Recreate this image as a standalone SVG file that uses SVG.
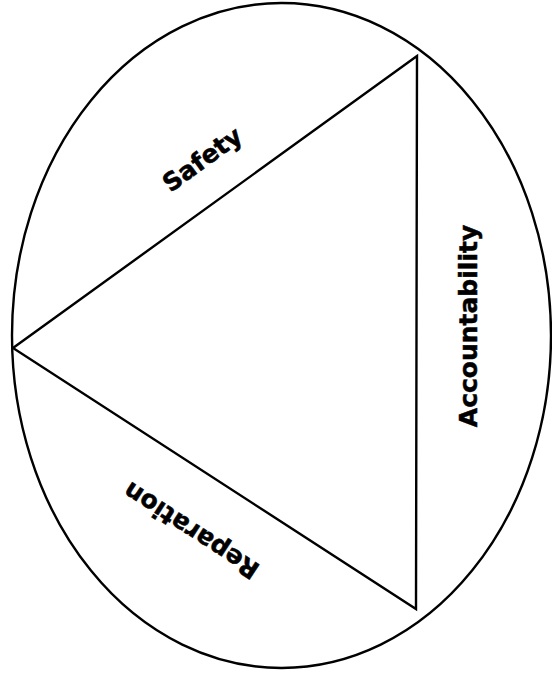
<svg xmlns="http://www.w3.org/2000/svg" width="552" height="674" viewBox="0 0 552 674">
<style>
.ln{fill:none;stroke:#000;stroke-width:2.4;stroke-linejoin:miter}
.lb{font-family:"DejaVu Sans",Verdana,sans-serif;font-weight:bold;font-size:25px;fill:#000;stroke:#000;stroke-width:0.5;text-anchor:middle}
</style>
<rect width="552" height="674" fill="#fff"/>
<g id="connectors">
<ellipse id="circle" class="ln" cx="281.5" cy="335.5" rx="269.5" ry="332.5"/>
<polygon id="triangle" class="ln" points="417,56 13,348 416,609"/>
</g>
<g id="safety"><text class="lb" transform="translate(202,159) rotate(-36)" x="0" y="9">Safety</text></g>
<g id="accountability"><text class="lb" transform="translate(467.5,326) rotate(-90)" x="0" y="9">Accountability</text></g>
<g id="reparation"><text class="lb" transform="translate(191,531) rotate(213)" x="0" y="9">Reparation</text></g>
</svg>
